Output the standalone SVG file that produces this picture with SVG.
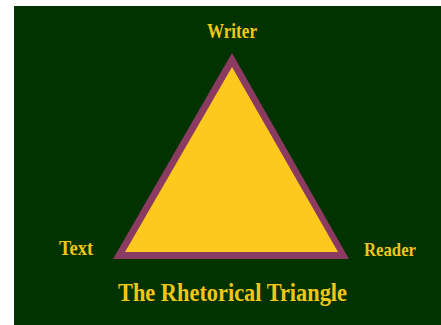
<svg xmlns="http://www.w3.org/2000/svg" width="441" height="325" viewBox="0 0 441 325">
<style>
.lbl{font-family:"Liberation Serif","Times New Roman",serif;font-weight:bold;fill:#f2c617;}
</style>
<rect x="0" y="0" width="441" height="325" fill="#ffffff"/>
<rect x="14" y="6" width="427" height="319" fill="#003300"/>
<g id="triangle">
<polygon points="232,53 113,259 349,259" fill="#8b3a62"/>
<polygon points="232,67 125,252 338,252" fill="#fdc91c"/>
</g>
<g id="writer"><text class="lbl" x="207" y="38" font-size="20" textLength="50" lengthAdjust="spacingAndGlyphs">Writer</text></g>
<g id="text"><text class="lbl" x="59" y="255" font-size="20" textLength="34" lengthAdjust="spacingAndGlyphs">Text</text></g>
<g id="reader"><text class="lbl" x="364" y="256" font-size="19" textLength="52" lengthAdjust="spacingAndGlyphs">Reader</text></g>
<g id="title"><text class="lbl" x="118" y="301" font-size="26" textLength="229" lengthAdjust="spacingAndGlyphs">The Rhetorical Triangle</text></g>
<g id="connectors"></g>
</svg>
